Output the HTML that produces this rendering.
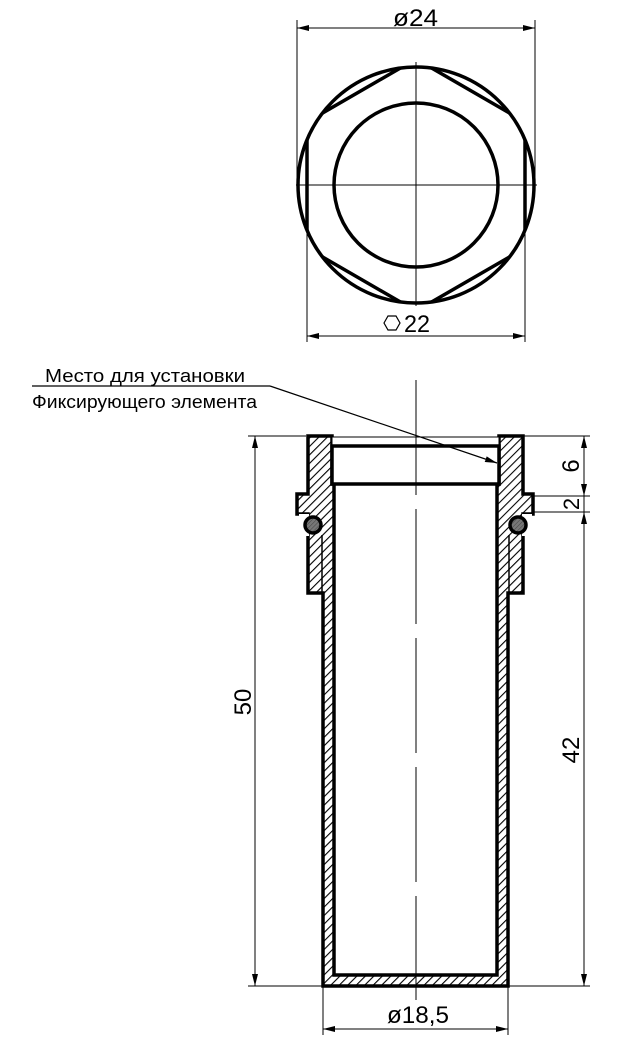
<!DOCTYPE html>
<html><head><meta charset="utf-8"><style>
html,body{margin:0;padding:0;background:#fff;}
svg{display:block;}
text{font-family:"Liberation Sans","DejaVu Sans",sans-serif;fill:#000;}
</style></head><body>
<svg width="630" height="1048" viewBox="0 0 630 1048" xmlns="http://www.w3.org/2000/svg">
<defs>
<pattern id="h" width="6" height="6" patternUnits="userSpaceOnUse" patternTransform="rotate(45)">
<rect width="6" height="6" fill="#fff"/><line x1="0" y1="0" x2="0" y2="6" stroke="#000" stroke-width="2.2"/>
</pattern>
<pattern id="g" width="3" height="3" patternUnits="userSpaceOnUse" patternTransform="rotate(45)">
<rect width="3" height="3" fill="#777"/><line x1="0" y1="0" x2="0" y2="3" stroke="#444" stroke-width="1"/>
</pattern>
<clipPath id="cc"><circle cx="416" cy="185" r="118"/></clipPath>
<marker id="a" viewBox="0 0 12 6" refX="12" refY="3" markerWidth="12" markerHeight="6" orient="auto-start-reverse" markerUnits="userSpaceOnUse"><path d="M0,0 L12,3 L0,6 Z" fill="#000"/></marker>
</defs>

<!-- TOP VIEW -->
<g stroke="#000" fill="none">
<line x1="297" y1="20" x2="297" y2="185" stroke-width="1"/>
<line x1="535" y1="20" x2="535" y2="185" stroke-width="1"/>
<line x1="297" y1="28" x2="535" y2="28" stroke-width="1" marker-start="url(#a)" marker-end="url(#a)"/>
<line x1="307" y1="150" x2="307" y2="342" stroke-width="1"/>
<line x1="525" y1="150" x2="525" y2="342" stroke-width="1"/>
<line x1="307" y1="336" x2="525" y2="336" stroke-width="1" marker-start="url(#a)" marker-end="url(#a)"/>
<circle cx="416" cy="185" r="118" stroke-width="3.5"/>
<polygon clip-path="url(#cc)" points="416,59 525,122 525,248 416,311 307,248 307,122" stroke-width="3.5"/>
<circle cx="416" cy="185" r="82" stroke-width="3.5"/>
<line x1="296" y1="185" x2="537" y2="185" stroke-width="1"/>
<line x1="416" y1="62" x2="416" y2="306" stroke-width="1"/>
</g>
<text x="393" y="26" font-size="24" textLength="45" lengthAdjust="spacingAndGlyphs">ø24</text>
<polygon points="384,323 388,316 396,316 400,323 396,330 388,330" fill="none" stroke="#000" stroke-width="1.2"/>
<text x="404" y="332" font-size="24" textLength="26" lengthAdjust="spacingAndGlyphs">22</text>

<!-- SECTION -->
<g stroke="#000" stroke-linejoin="miter">
<path d="M308,436 L332,436 L332,484 L334,484 L334,975 L497,975 L497,484 L499,484 L499,436 L523,436 L523,494 L533,494 L533,514 L523,514 L523,593 L508,593 L508,986 L323,986 L323,593 L308,593 L308,514 L297,514 L297,494 L308,494 Z" fill="url(#h)" stroke-width="3.5"/>
<line x1="322" y1="535" x2="322" y2="593" stroke-width="1.5"/>
<line x1="509" y1="535" x2="509" y2="593" stroke-width="1.5"/>
<rect x="299" y="514" width="10" height="22" fill="#fff" stroke="none"/>
<rect x="522" y="514" width="10" height="22" fill="#fff" stroke="none"/>
<circle cx="313" cy="525" r="8" fill="url(#g)" stroke-width="3.5"/>
<circle cx="518" cy="525" r="8" fill="url(#g)" stroke-width="3.5"/>
<rect x="332" y="437" width="167" height="9" fill="#fff" stroke-width="1"/>
<rect x="332" y="446" width="167" height="38" fill="#fff" stroke-width="3.5"/>
</g>
<!-- center line -->
<line x1="416" y1="380" x2="416" y2="1000" stroke="#000" stroke-width="1" stroke-dasharray="115,14"/>

<!-- LEADER -->
<text x="45" y="382" font-size="18" textLength="200" lengthAdjust="spacingAndGlyphs">Место для установки</text>
<text x="32" y="408" font-size="18" textLength="225" lengthAdjust="spacingAndGlyphs">Фиксирующего элемента</text>
<line x1="32" y1="386" x2="270" y2="386" stroke="#000" stroke-width="1.2"/>
<line x1="270" y1="386" x2="497" y2="463" stroke="#000" stroke-width="1.2" marker-end="url(#a)"/>

<!-- dims -->
<g stroke="#000" stroke-width="1" fill="none">
<line x1="248" y1="436" x2="306" y2="436"/>
<line x1="248" y1="986" x2="322" y2="986"/>
<line x1="255" y1="436" x2="255" y2="986" marker-start="url(#a)" marker-end="url(#a)"/>
<line x1="524" y1="436" x2="590" y2="436"/>
<line x1="534" y1="496" x2="590" y2="496"/>
<line x1="534" y1="512" x2="590" y2="512"/>
<line x1="509" y1="986" x2="590" y2="986"/>
<line x1="584" y1="436" x2="584" y2="496" marker-start="url(#a)" marker-end="url(#a)"/>
<line x1="584" y1="496" x2="584" y2="512"/>
<line x1="584" y1="512" x2="584" y2="986" marker-start="url(#a)" marker-end="url(#a)"/>
<line x1="323" y1="987" x2="323" y2="1035"/>
<line x1="508" y1="987" x2="508" y2="1035"/>
<line x1="323" y1="1029" x2="508" y2="1029" marker-start="url(#a)" marker-end="url(#a)"/>
</g>
<text transform="translate(251,702) rotate(-90)" font-size="24" text-anchor="middle">50</text>
<text transform="translate(579,466) rotate(-90)" font-size="24" text-anchor="middle">6</text>
<text transform="translate(579,504) rotate(-90)" font-size="22" text-anchor="middle">2</text>
<text transform="translate(579,750) rotate(-90)" font-size="24" text-anchor="middle">42</text>
<text x="387" y="1023" font-size="24" textLength="62" lengthAdjust="spacingAndGlyphs">ø18,5</text>
</svg>
</body></html>
